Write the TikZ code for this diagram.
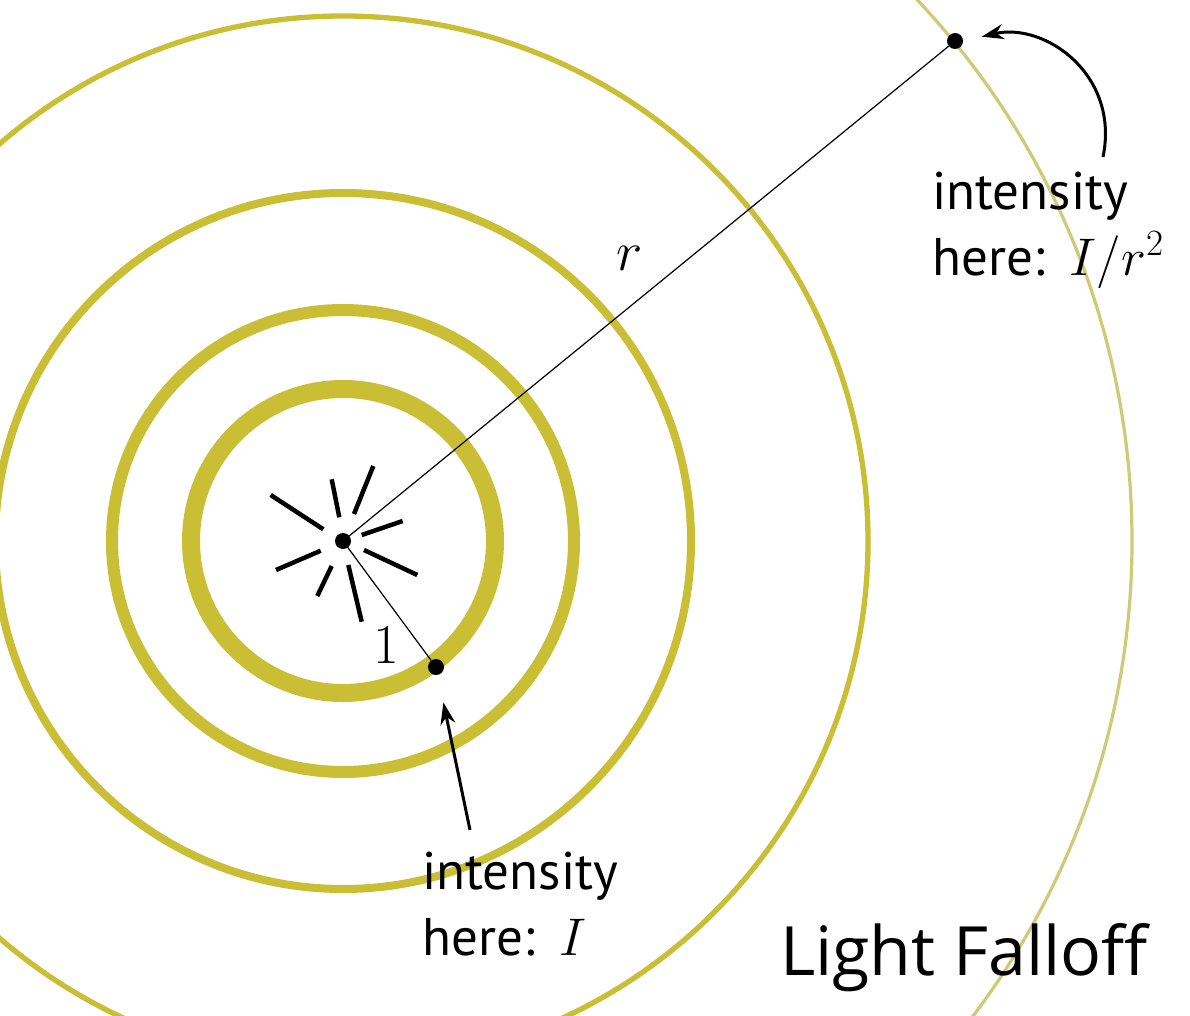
\RequirePackage{fix-cm}
\documentclass[tikz,border=0pt]{standalone}
\usepackage{fontspec}
\newfontfamily\labfont{PT Sans}
\newfontfamily\titlefont{Open Sans}
\usetikzlibrary{arrows.meta}
\definecolor{ringc}{RGB}{201,190,52}
\definecolor{ringlight}{RGB}{206,202,118}
\begin{document}
\begin{tikzpicture}[x=1pt,y=-1pt,
  ring/.style={draw=ringc},
  dot/.style={circle,fill=black,inner sep=0pt,minimum size=16pt},
  ray/.style={line width=4.5pt},
  spoke/.style={line width=1.2pt},
  lab/.style={font=\labfont\fontsize{53}{66}\selectfont, align=left, anchor=base west, inner sep=0pt},
  mathlab/.style={font=\fontsize{56}{60}\selectfont, inner sep=0pt},
  pointer/.style={line width=3pt,-{Stealth[length=22pt,width=15pt]}}]
\useasboundingbox (0,0) rectangle (1190,1016);
\clip (0,0) rectangle (1190,1016);
\fill[white] (0,0) rectangle (1190,1016);
\coordinate (c) at (343,541);
% rings
\draw[ring,line width=18pt] (c) circle[radius=152];
\draw[ring,line width=12pt] (c) circle[radius=231];
\draw[ring,line width=8pt] (c) circle[radius=348];
\draw[ring,line width=5.3pt] (c) circle[radius=525];
\draw[draw=ringlight,line width=3.2pt] (c) circle[radius=789];
% dots
\node[dot] (d0) at (c) {};
\node[dot] (d1) at (436,667) {};
\node[dot] (d2) at (955,41) {};
% spokes
\draw[spoke] (d0.center) -- (d2);
\draw[spoke] (d0.center) -- (d1);
% rays
\draw[ray] (270.7,495) -- (323.3,529.3);
\draw[ray] (331.7,479.3) -- (339.3,517.3);
\draw[ray] (373.3,466) -- (354,514);
\draw[ray] (361.7,535) -- (402.7,521);
\draw[ray] (364,550) -- (417.3,575);
\draw[ray] (348.3,565) -- (361.7,621.7);
\draw[ray] (331.7,566) -- (317.3,596);
\draw[ray] (320.7,550.7) -- (276,570);
% labels
\node[mathlab] (rlab) at (630,258) {$r$};
\node[mathlab] (onelab) at (386,645) {$1$};
\node[lab] (lab2) at (932,275) {intensity\\here:\hspace{0.12em} $I/r^2$};
\node[lab] (lab1) at (422,955) {intensity\\here:\hspace{0.12em} $I$};
\node[font=\titlefont\fontsize{68}{78}\selectfont, anchor=base west, inner sep=0pt] (title) at (780,975) {Light Falloff};
% arrows
\coordinate (a1s) at (470,830);
\coordinate (a2s) at (1103,157);
\draw[pointer, shorten >=28pt] (a1s) -- (d1);
\draw[pointer, shorten >=19pt] (a2s) .. controls (1120,75) and (1045,22) .. (d2.east);
\end{tikzpicture}
\end{document}
